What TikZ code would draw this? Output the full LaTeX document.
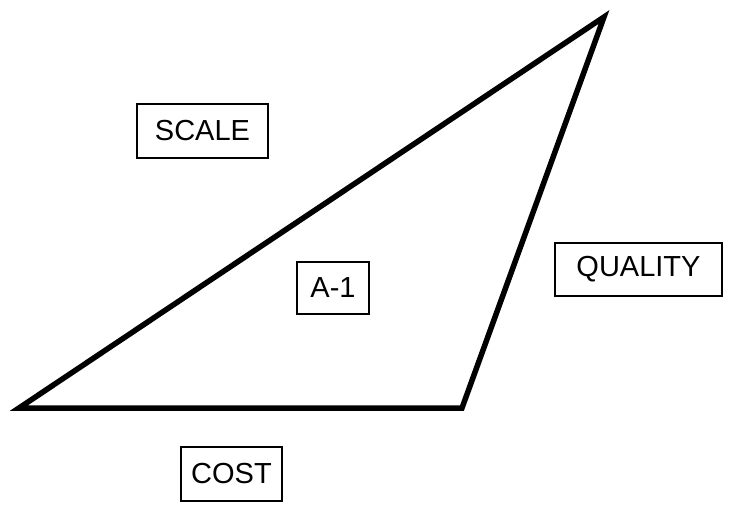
\documentclass[tikz,border=0pt]{standalone}
\usepackage{fontspec}
\setmainfont{Liberation Sans}
\usetikzlibrary{positioning}

\begin{document}
\begin{tikzpicture}[
  x=1pt, y=-1pt,
  box/.style={draw, line width=1.2pt, align=center,
    font=\fontsize{29}{32}\selectfont, inner sep=0pt},
  edge/.style={line width=5.5pt, line join=miter}
]
\useasboundingbox (0,0) rectangle (732,525);

% corners of the triangle
\coordinate (cl) at (19,408);
\coordinate (cr) at (462,408);
\coordinate (top) at (604,17);

\draw[edge] (cl) -- (cr) -- (top) -- cycle;

\node[box, minimum width=131pt, minimum height=54pt] (scale) at (202.5,131) {SCALE};
\node[box, minimum width=72pt, minimum height=52pt] (aone) at (333,288) {A-1};
\node[box, minimum width=167pt, minimum height=53pt] (quality) at (638.5,269.5) {QUALITY};
\node[box, minimum width=101pt, minimum height=54pt] (cost) at (231.5,474) {COST};
\end{tikzpicture}
\end{document}
